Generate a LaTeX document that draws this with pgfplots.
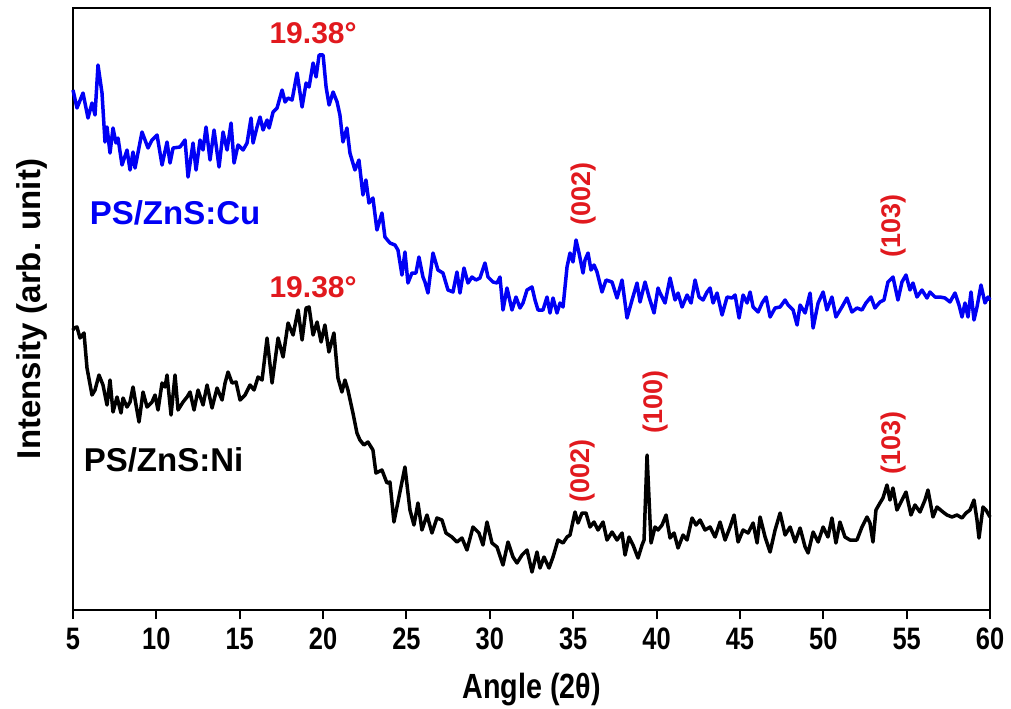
\documentclass[border=0pt]{standalone}
\usepackage{fontspec}
\setmainfont{Liberation Sans}
\newfontfamily\narrowfont{Liberation Sans}[FakeStretch=0.82]
\usepackage{pgfplots}
\pgfplotsset{compat=1.18}
\definecolor{annred}{RGB}{225,25,30}
\definecolor{cublue}{RGB}{0,0,245}
\begin{document}
\begin{tikzpicture}
\path[use as bounding box] (-36.5pt,-49pt) rectangle (469pt,305pt);
\begin{axis}[
  at={(0,0)}, anchor=south west,
  scale only axis, width=458.5pt, height=301pt,
  xmin=5, xmax=60, ymin=0, ymax=602,
  xtick={5,10,...,60}, ytick=\empty,
  xtick pos=left, tick align=outside,
  major tick length=4.5pt,
  every tick/.style={black, line width=1pt},
  axis line style={line width=1.2pt},
  /pgf/number format/assume math mode=true,
  xticklabel style={font=\narrowfont\bfseries\fontsize{15.5}{18}\selectfont, yshift=-1pt},
  xlabel={Angle (2θ)},
  ylabel={Intensity (arb. unit)},
  every axis x label/.style={at={(axis description cs:0.5,0)}, yshift=-40pt, anchor=center, font=\narrowfont\bfseries\fontsize{17.5}{20}\selectfont},
  every axis y label/.style={at={(axis description cs:0,0.5)}, xshift=-20.5pt, anchor=center, rotate=90, font=\bfseries\fontsize{16.5}{20}\selectfont},
  clip=false,
]
% PS/ZnS:Cu
\addplot[cublue, line width=1.75pt, line join=round] coordinates {
(5.00,520)(5.24,502)(5.60,517)(5.90,492)(6.14,507)(6.32,495)(6.50,545)(6.74,517)
(6.92,468)(7.04,483)(7.22,457)(7.40,482)(7.58,467)(7.70,472)(7.94,445)(8.24,460)
(8.42,440)(8.60,458)(8.72,442)(9.14,478)(9.50,462)(9.74,470)(10.04,475)(10.34,445)
(10.64,468)(10.82,447)(11.00,462)(11.42,463)(11.72,470)(11.90,433)(12.20,467)(12.38,440)
(12.62,470)(12.80,460)(12.98,483)(13.22,450)(13.46,480)(13.76,443)(14.00,478)(14.24,460)
(14.48,487)(14.66,447)(14.90,465)(15.20,460)(15.44,467)(15.68,492)(15.80,467)(16.04,483)
(16.22,493)(16.40,480)(16.64,490)(16.76,482)(17.00,498)(17.24,502)(17.54,520)(17.72,508)
(17.90,512)(18.14,510)(18.44,537)(18.74,503)(18.98,527)(19.16,523)(19.40,547)(19.58,533)
(19.76,555)(20.00,555)(20.18,523)(20.36,505)(20.60,518)(20.84,508)(21.01,495)(21.19,468)
(21.43,482)(21.61,457)(21.91,440)(22.15,450)(22.39,415)(22.57,430)(22.75,407)(22.99,412)
(23.23,380)(23.53,397)(23.71,373)(24.01,367)(24.31,365)(24.49,360)(24.73,335)(24.91,358)
(25.09,327)(25.33,337)(25.57,337)(25.75,353)(25.99,333)(26.11,328)(26.29,317)(26.59,357)
(26.89,340)(27.19,337)(27.49,320)(27.79,318)(28.03,338)(28.21,317)(28.45,342)(28.69,327)
(28.93,333)(29.17,330)(29.41,332)(29.71,347)(29.89,333)(30.19,328)(30.43,327)(30.61,333)
(30.79,300)(31.03,322)(31.33,300)(31.57,313)(31.81,302)(31.99,307)(32.23,320)(32.53,323)
(32.71,310)(32.89,300)(33.19,300)(33.43,313)(33.61,297)(33.79,312)(34.03,297)(34.21,307)
(34.39,303)(34.63,343)(34.81,357)(34.99,348)(35.17,370)(35.35,357)(35.59,337)(35.71,350)
(35.89,357)(36.07,340)(36.25,345)(36.43,338)(36.73,318)(36.97,330)(37.33,328)(37.63,312)
(37.93,330)(38.23,292)(38.53,310)(38.83,327)(39.01,308)(39.31,328)(39.55,313)(39.85,297)
(40.09,322)(40.21,317)(40.51,307)(40.81,332)(41.11,310)(41.29,317)(41.53,303)(41.83,315)
(42.07,307)(42.31,330)(42.55,313)(42.79,310)(43.03,318)(43.21,322)(43.39,307)(43.63,317)
(43.93,295)(44.23,313)(44.53,312)(44.71,315)(44.95,292)(45.19,315)(45.43,307)(45.61,318)
(45.79,303)(46.09,298)(46.33,307)(46.57,313)(46.81,293)(47.11,302)(47.41,303)(47.71,310)
(47.89,305)(48.19,300)(48.43,285)(48.61,305)(48.91,297)(49.21,317)(49.39,282)(49.69,307)
(49.99,318)(50.22,300)(50.52,313)(50.76,293)(51.12,303)(51.42,312)(51.72,298)(52.02,302)
(52.32,300)(52.56,307)(52.86,313)(53.10,302)(53.40,308)(53.64,310)(53.88,328)(54.18,333)
(54.48,310)(54.72,328)(54.96,335)(55.20,320)(55.38,327)(55.62,313)(55.92,320)(56.22,312)
(56.40,318)(56.70,313)(57.00,313)(57.30,312)(57.60,308)(57.90,317)(58.14,305)(58.32,293)
(58.50,307)(58.68,293)(58.86,318)(59.04,290)(59.22,303)(59.46,325)(59.70,307)(59.88,313)
(60.00,310)
};
% PS/ZnS:Ni
\addplot[black, line width=1.75pt, line join=round] coordinates {
(5.00,280)(5.06,282)(5.24,283)(5.42,272)(5.66,277)(5.84,242)(6.14,215)(6.32,220)(6.56,235)
(6.80,225)(7.04,205)(7.22,230)(7.40,198)(7.64,213)(7.88,197)(8.00,212)(8.24,203)
(8.42,208)(8.60,223)(8.78,205)(8.96,188)(9.20,218)(9.44,203)(9.74,208)(9.92,215)
(10.10,200)(10.34,227)(10.52,223)(10.64,235)(10.88,195)(11.12,235)(11.30,200)(11.60,208)
(11.84,213)(12.02,218)(12.26,200)(12.50,220)(12.80,205)(13.04,225)(13.34,202)(13.64,222)
(13.94,210)(14.12,227)(14.30,238)(14.54,227)(14.78,228)(15.02,210)(15.32,215)(15.62,225)
(15.86,220)(16.10,233)(16.34,230)(16.64,272)(16.94,227)(17.30,272)(17.60,253)(17.90,287)
(18.20,275)(18.50,300)(18.74,270)(18.98,302)(19.16,303)(19.40,275)(19.64,288)(19.88,268)
(20.11,285)(20.35,258)(20.65,277)(20.89,232)(21.13,218)(21.31,230)(21.49,220)(21.79,197)
(22.03,177)(22.21,170)(22.45,165)(22.69,168)(22.99,160)(23.17,137)(23.53,140)(23.83,127)
(24.01,128)(24.25,88)(24.55,113)(24.91,143)(25.21,100)(25.45,85)(25.69,107)(25.93,80)
(26.23,95)(26.53,77)(26.83,92)(27.13,90)(27.37,77)(27.73,73)(28.03,68)(28.33,72)
(28.63,60)(28.99,83)(29.35,77)(29.59,65)(29.83,88)(30.13,67)(30.43,63)(30.79,45)
(31.09,68)(31.39,53)(31.63,47)(31.93,55)(32.23,60)(32.53,38)(32.83,58)(33.01,42)
(33.25,53)(33.55,42)(33.79,53)(34.09,70)(34.39,67)(34.63,73)(34.81,75)(35.11,98)
(35.29,87)(35.53,97)(35.77,97)(36.01,83)(36.25,88)(36.49,80)(36.79,88)(37.03,70)
(37.33,78)(37.63,70)(37.93,77)(38.11,55)(38.35,73)(38.59,65)(38.89,52)(39.13,65)
(39.25,70)(39.43,155)(39.67,67)(39.91,83)(40.09,80)(40.33,85)(40.57,95)(40.81,72)
(41.05,77)(41.29,62)(41.59,75)(41.83,70)(42.13,92)(42.37,85)(42.61,90)(42.91,80)
(43.21,83)(43.51,73)(43.81,88)(44.11,70)(44.41,83)(44.65,95)(44.89,68)(45.19,80)
(45.49,77)(45.79,87)(46.03,67)(46.21,93)(46.51,73)(46.81,58)(47.11,80)(47.41,97)
(47.71,75)(48.01,83)(48.31,68)(48.61,82)(48.91,63)(49.09,57)(49.39,78)(49.69,68)
(49.99,83)(50.28,73)(50.52,92)(50.76,67)(51.00,88)(51.30,73)(51.60,70)(52.02,70)
(52.32,83)(52.62,93)(52.80,87)(52.98,68)(53.16,100)(53.40,107)(53.58,112)(53.82,125)
(54.00,110)(54.18,122)(54.42,100)(54.72,110)(54.96,118)(55.26,95)(55.50,105)(55.80,98)
(56.10,110)(56.28,120)(56.58,93)(56.82,103)(57.18,98)(57.42,95)(57.72,93)(58.02,95)
(58.32,92)(58.56,97)(58.80,100)(59.04,110)(59.22,90)(59.34,72)(59.58,103)(59.76,100)
(60.00,93)
};
\begin{scope}[every node/.style={font=\bfseries\fontsize{15}{18}\selectfont}]
\node[annred] at (axis cs:19.40,577) {19.38°};
\node[annred] at (axis cs:19.40,323) {19.38°};
\node[cublue, font=\bfseries\fontsize{16.5}{20}\selectfont] at (axis cs:11.12,397) {PS/ZnS:Cu};
\node[black, font=\bfseries\fontsize{16.5}{20}\selectfont] at (axis cs:10.43,150) {PS/ZnS:Ni};
\end{scope}
\begin{scope}[every node/.style={font=\bfseries\fontsize{13.5}{16}\selectfont, annred, rotate=90}]
\node at (axis cs:35.59,416) {(002)};
\node at (axis cs:54.24,384) {(103)};
\node at (axis cs:35.53,139) {(002)};
\node at (axis cs:39.91,208) {(100)};
\node at (axis cs:54.24,167) {(103)};
\end{scope}
\end{axis}
\end{tikzpicture}
\end{document}
